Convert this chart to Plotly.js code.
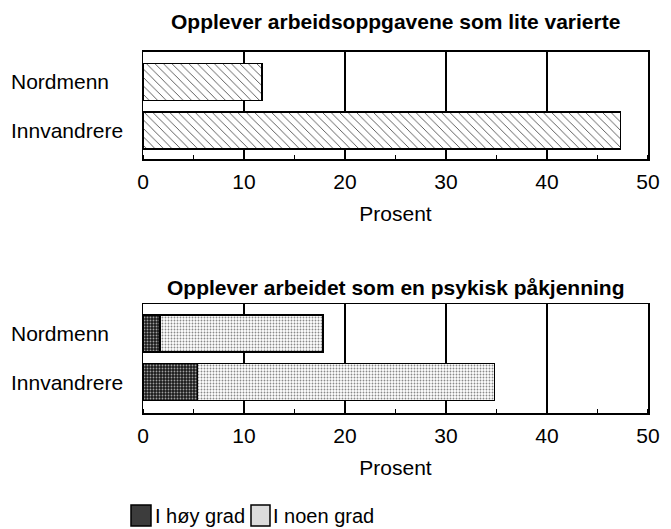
<!DOCTYPE html>
<html><head><meta charset="utf-8">
<script src="https://cdn.plot.ly/plotly-3.0.1.min.js"></script>
<style>html,body{margin:0;padding:0;background:#fff}#chart{width:671px;height:529px}</style>
</head><body><div id="chart"></div>
<script>
const groups = ['Nordmenn', 'Innvandrere'];
const variedTitle = 'Opplever arbeidsoppgavene som lite varierte';
const variedValues = [11.8, 47.3];
const strainTitle = 'Opplever arbeidet som en psykisk påkjenning';
const seriesNames = ['I høy grad', 'I noen grad'];
const highDegree = [1.7, 5.4];
const someDegree = [16.1, 29.4];
const xTickVals = [0, 10, 20, 30, 40, 50];
const axisTitle = 'Prosent';

const FONT = "'Liberation Sans', Arial, sans-serif";
const FS = 21;
const W = 671, H = 529, L = 143, R = 23;
const px2x = p => (p - L) / (W - L - R);
const py2y = p => 1 - p / H;

const outline = {color: 'black', width: 1.5};

const traces = [
  {type: 'bar', orientation: 'h', x: variedValues, y: groups, xaxis: 'x', yaxis: 'y',
   showlegend: false, hoverinfo: 'none',
   marker: {color: 'white', line: outline,
            pattern: {shape: '\\', fgcolor: '#222', bgcolor: 'white', size: 6, solidity: 0.12}}},
  {type: 'bar', orientation: 'h', x: highDegree, y: groups, xaxis: 'x2', yaxis: 'y2',
   name: seriesNames[0], showlegend: false, hoverinfo: 'none',
   marker: {color: '#2a2a2a', line: outline,
            pattern: {shape: '.', fgcolor: '#a0a0a0', bgcolor: '#1a1a1a', size: 3, solidity: 0.3}}},
  {type: 'bar', orientation: 'h', x: someDegree, y: groups, xaxis: 'x2', yaxis: 'y2',
   name: seriesNames[1], showlegend: false, hoverinfo: 'none',
   marker: {color: '#ffffff', line: outline,
            pattern: {shape: '.', fgcolor: '#8a8a8a', bgcolor: '#ffffff', size: 3, solidity: 0.3}}}
];

function xAxis(anchor) {
  return {
    domain: [0, 1], anchor: anchor, range: [0, 50], tickmode: 'array', tickvals: xTickVals,
    showgrid: true, gridcolor: 'black', gridwidth: 1.5, zeroline: false,
    showline: true, mirror: true, linecolor: 'black', linewidth: 1.5,
    ticks: '', ticklabelstandoff: 3, tickfont: {family: FONT, size: FS, color: 'black'},
    minor: {dtick: 5, tick0: 0, ticks: 'inside', ticklen: 4, tickwidth: 1.5, tickcolor: 'black', showgrid: false},
    title: {text: axisTitle, font: {family: FONT, size: FS, color: 'black'}, standoff: 14},
    automargin: false, fixedrange: true
  };
}
function yAxis(anchor, dom, range) {
  return {
    domain: dom, anchor: anchor, type: 'category', range: range,
    showgrid: false, zeroline: false, showline: true, mirror: true,
    linecolor: 'black', linewidth: 1.5, ticks: '', showticklabels: false,
    automargin: false, fixedrange: true
  };
}

const txt = (text, x, y, xanchor, yref, size) => ({text: text, xref: 'paper', yref: yref || 'paper', x: x, y: y,
  xanchor: xanchor, yanchor: 'middle', showarrow: false, font: {family: FONT, size: size || FS, color: 'black'}});

const catLabels = [];
groups.forEach(g => {
  catLabels.push(txt(g, px2x(9), g, 'left', 'y'));
  catLabels.push(txt(g, px2x(9), g, 'left', 'y2'));
});

const layout = {
  width: W, height: H, margin: {l: L, r: R, t: 0, b: 0},
  paper_bgcolor: 'white', plot_bgcolor: 'white',
  barmode: 'stack', bargap: 0.24, showlegend: false,
  font: {family: FONT, size: FS, color: 'black'},
  xaxis: xAxis('y'),
  yaxis: yAxis('x', [py2y(159), py2y(51.7)], [1.59, -0.625]),
  xaxis2: xAxis('y2'),
  yaxis2: yAxis('x2', [py2y(413), py2y(304)], [1.64, -0.61]),
  annotations: [
    txt('<b>' + variedTitle + '</b>', 0.5, py2y(22), 'center'),
    txt('<b>' + strainTitle + '</b>', 0.5, py2y(287), 'center'),
    txt(seriesNames[0], px2x(153), py2y(516), 'left', 'paper', 20),
    txt(seriesNames[1], px2x(271), py2y(516), 'left', 'paper', 20)
  ].concat(catLabels),
  shapes: [
    {type: 'rect', xref: 'paper', yref: 'paper', x0: px2x(131), x1: px2x(151), y0: py2y(526), y1: py2y(505),
     fillcolor: '#3c3c3c', line: {color: 'black', width: 1.5}},
    {type: 'rect', xref: 'paper', yref: 'paper', x0: px2x(251), x1: px2x(270), y0: py2y(526), y1: py2y(505),
     fillcolor: '#dcdcdc', line: {color: 'black', width: 1.5}}
  ]
};

Plotly.newPlot('chart', traces, layout, {displayModeBar: false, staticPlot: true});
</script></body></html>
